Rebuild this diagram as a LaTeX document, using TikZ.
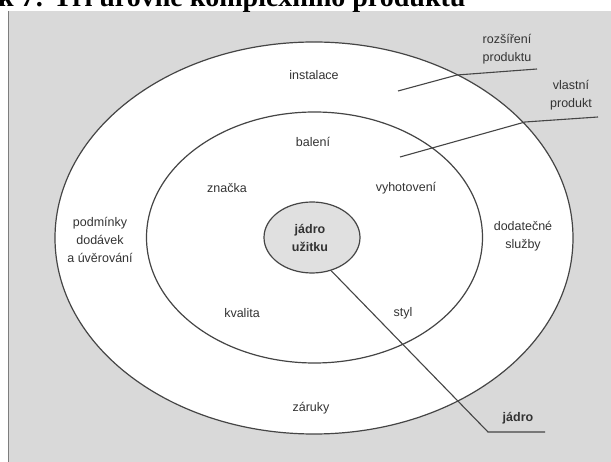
\documentclass[tikz,border=0pt]{standalone}
\usepackage{fontspec}
\setmainfont{Liberation Sans}
\newfontfamily\titlefont{Liberation Serif}
\usetikzlibrary{shapes.geometric}
\definecolor{bggray}{HTML}{D9D9D9}
\definecolor{coregray}{HTML}{E0E0E0}
\definecolor{linegray}{HTML}{454545}
\definecolor{txtgray}{HTML}{333333}
\begin{document}
\begin{tikzpicture}[x=1pt,y=-1pt,
  ring/.style={ellipse, draw=linegray, line width=1.2pt, fill=white, inner sep=0pt},
  conn/.style={draw=linegray, line width=1.1pt},
  lbl/.style={font=\fontsize{12.5}{18}\selectfont, text=txtgray, align=center, inner sep=0pt},
  boldlbl/.style={lbl, font=\bfseries\fontsize{12.5}{18}\selectfont}]
\useasboundingbox (0,0) rectangle (611,462);
\clip (0,0) rectangle (611,462);
\fill[bggray] (8,11) rectangle (611,462);
\draw[linegray!70, line width=1.6pt] (8.5,11) -- (8.5,462);
\node[anchor=base west, font=\titlefont\bfseries\fontsize{28}{32}\selectfont, inner sep=0pt] (title) at (-2,7) {k 7: Tři úrovně komplexního produktu};
% ellipses
\node[ring, minimum width=518pt, minimum height=392pt] (outer) at (314,238) {};
\node[ring, minimum width=336pt, minimum height=251pt] (inner) at (314.5,237.5) {};
\node[ring, fill=coregray, minimum width=96pt, minimum height=71pt] (core) at (312,237.5) {};
% labels
\node[boldlbl] (jadrouz) at (310,238) {jádro\\užitku};
\node[lbl] (instalace) at (314,75) {instalace};
\node[lbl] (baleni) at (313,142) {balení};
\node[lbl] (znacka) at (227,188) {značka};
\node[lbl] (vyhot) at (406,188) {vyhotovení};
\node[lbl] (kvalita) at (242,313) {kvalita};
\node[lbl] (styl) at (403,313) {styl};
\node[lbl] (zaruky) at (311,408) {záruky};
\node[lbl] (podminky) at (100,240) {podmínky\\dodávek\\a úvěrování};
\node[lbl] (dodat) at (523,236) {dodatečné\\služby};
\node[lbl] (rozs) at (507,49) {rozšíření\\produktu};
\node[lbl] (vlast) at (571,95) {vlastní\\produkt};
\node[boldlbl] (jadro) at (518,418) {jádro};
% connectors
\coordinate (rs) at (398,91);
\coordinate (rk) at (457,75);
\coordinate (re) at (537,69);
\draw[conn] (rs) -- (rk) -- (re);
\coordinate (vs) at (400,157);
\coordinate (vk) at (525,122);
\coordinate (ve) at (598,117);
\draw[conn] (vs) -- (vk) -- (ve);
\coordinate (jk) at (488,432);
\coordinate (je) at (545,432);
\draw[conn] (core.-60) -- (jk) -- (je);
\end{tikzpicture}
\end{document}
